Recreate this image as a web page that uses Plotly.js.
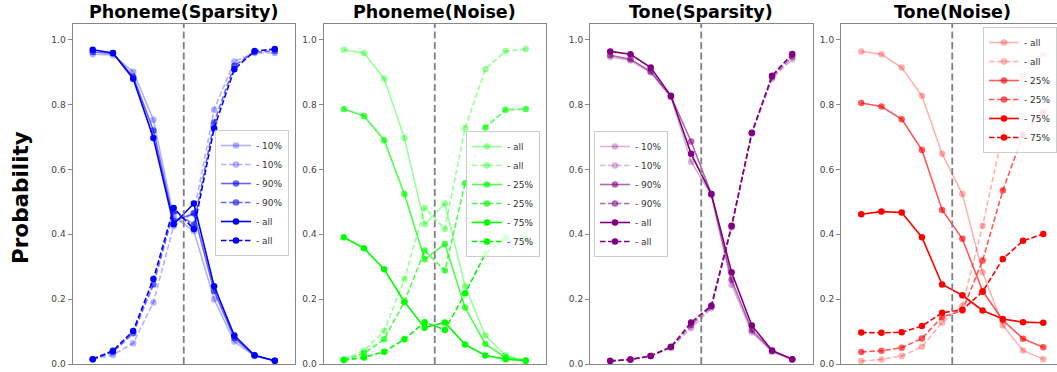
<!DOCTYPE html>
<html>
<head>
<meta charset="utf-8">
<script src="https://cdn.plot.ly/plotly-3.0.1.min.js"></script>
<style>
html, body { margin: 0; padding: 0; overflow: hidden; background: #fff; }
#chart { width: 1065px; height: 372px; }
</style>
</head>
<body>
<div id="chart"></div>
<script>
// ---------- data ----------
const steps = [1, 2, 3, 4, 5, 6, 7, 8, 9, 10];
const panelTitles = ['Phoneme(Sparsity)', 'Phoneme(Noise)', 'Tone(Sparsity)', 'Tone(Noise)'];
const yTickVals = [0, 0.2, 0.4, 0.6, 0.8, 1.0];
const yTickText = ['0.0', '0.2', '0.4', '0.6', '0.8', '1.0'];
const boundary = [5.5];

// Phoneme (Sparsity)
const phSp10Solid = [0.955, 0.953, 0.901, 0.753, 0.455, 0.410, 0.200, 0.069, 0.025, 0.010];
const phSp10Dash  = [0.015, 0.028, 0.064, 0.190, 0.425, 0.465, 0.784, 0.933, 0.959, 0.959];
const phSp90Solid = [0.962, 0.958, 0.886, 0.720, 0.440, 0.465, 0.225, 0.080, 0.026, 0.010];
const phSp90Dash  = [0.015, 0.037, 0.095, 0.245, 0.470, 0.430, 0.745, 0.920, 0.962, 0.965];
const phAllSolid  = [0.969, 0.959, 0.880, 0.697, 0.431, 0.495, 0.240, 0.088, 0.027, 0.010];
const phAllDash   = [0.015, 0.041, 0.102, 0.262, 0.481, 0.416, 0.727, 0.909, 0.965, 0.971];

// Phoneme (Noise)
const phNo25Solid = [0.786, 0.765, 0.690, 0.524, 0.323, 0.370, 0.174, 0.062, 0.020, 0.011];
const phNo25Dash  = [0.012, 0.033, 0.076, 0.192, 0.350, 0.288, 0.557, 0.729, 0.784, 0.786];
const phNo75Solid = [0.391, 0.357, 0.292, 0.192, 0.112, 0.128, 0.060, 0.026, 0.015, 0.010];
const phNo75Dash  = [0.012, 0.020, 0.038, 0.076, 0.129, 0.105, 0.218, 0.340, 0.389, 0.386];

// Tone (Sparsity)
const toSp10Solid = [0.947, 0.936, 0.899, 0.823, 0.624, 0.520, 0.244, 0.098, 0.038, 0.014];
const toSp10Dash  = [0.009, 0.013, 0.025, 0.050, 0.110, 0.172, 0.420, 0.710, 0.880, 0.940];
const toSp90Solid = [0.952, 0.940, 0.902, 0.825, 0.686, 0.524, 0.260, 0.105, 0.040, 0.014];
const toSp90Dash  = [0.010, 0.014, 0.025, 0.052, 0.120, 0.177, 0.424, 0.712, 0.885, 0.948];
const toAllSolid  = [0.964, 0.955, 0.914, 0.827, 0.648, 0.524, 0.283, 0.119, 0.042, 0.015];
const toAllDash   = [0.009, 0.014, 0.025, 0.053, 0.128, 0.180, 0.426, 0.713, 0.889, 0.956];

// Tone (Noise)
const toNo25Solid = [0.805, 0.794, 0.755, 0.660, 0.475, 0.386, 0.225, 0.135, 0.078, 0.052];
const toNo25Dash  = [0.037, 0.041, 0.050, 0.079, 0.145, 0.165, 0.319, 0.535, 0.707, 0.776];
const toNo75Solid = [0.462, 0.470, 0.467, 0.391, 0.245, 0.212, 0.165, 0.139, 0.129, 0.127];
const toNo75Dash  = [0.097, 0.096, 0.098, 0.117, 0.158, 0.167, 0.223, 0.324, 0.380, 0.401];

// ---------- styling ----------
const W = 1065, H = 372;
const xDomainsPx = [[72.5, 295], [323.5, 546], [590, 812.5], [841, 1063.5]];
const yDomain = [(H - 364) / H, (H - 23.5) / H];
const DASH = '5.5px,2.5px';

function series(panel, name, y, color, dashed) {
  const ax = panel === 0 ? '' : String(panel + 1);
  return {
    type: 'scatter', mode: 'lines+markers',
    x: steps, y: y, name: name,
    xaxis: 'x' + ax, yaxis: 'y' + ax,
    legend: 'legend' + ax,
    line: { color: color, width: 1.6, dash: dashed ? DASH : 'solid' },
    marker: { color: color, size: 6.5, line: { width: 0 } },
    hoverinfo: 'x+y+name'
  };
}

const blue = a => `rgba(0,0,255,${a})`;
const lime = a => `rgba(0,255,0,${a})`;
const purple = a => `rgba(128,0,128,${a})`;
const red = a => `rgba(255,0,0,${a})`;

const traces = [
  series(0, '- 10%', phSp10Solid, blue(0.3), false),
  series(0, '- 10%', phSp10Dash, blue(0.3), true),
  series(0, '- 90%', phSp90Solid, blue(0.6), false),
  series(0, '- 90%', phSp90Dash, blue(0.6), true),
  series(0, '- all', phAllSolid, blue(1), false),
  series(0, '- all', phAllDash, blue(1), true),

  series(1, '- all', phAllSolid, lime(0.4), false),
  series(1, '- all', phAllDash, lime(0.4), true),
  series(1, '- 25%', phNo25Solid, lime(0.7), false),
  series(1, '- 25%', phNo25Dash, lime(0.7), true),
  series(1, '- 75%', phNo75Solid, lime(1), false),
  series(1, '- 75%', phNo75Dash, lime(1), true),

  series(2, '- 10%', toSp10Solid, purple(0.3), false),
  series(2, '- 10%', toSp10Dash, purple(0.3), true),
  series(2, '- 90%', toSp90Solid, purple(0.6), false),
  series(2, '- 90%', toSp90Dash, purple(0.6), true),
  series(2, '- all', toAllSolid, purple(1), false),
  series(2, '- all', toAllDash, purple(1), true),

  series(3, '- all', toAllSolid, red(0.3), false),
  series(3, '- all', toAllDash, red(0.3), true),
  series(3, '- 25%', toNo25Solid, red(0.65), false),
  series(3, '- 25%', toNo25Dash, red(0.65), true),
  series(3, '- 75%', toNo75Solid, red(1), false),
  series(3, '- 75%', toNo75Dash, red(1), true)
];

const layout = {
  width: W, height: H,
  margin: { l: 0, r: 0, t: 0, b: 0, pad: 0 },
  paper_bgcolor: '#fff', plot_bgcolor: '#fff',
  font: { family: 'DejaVu Sans, sans-serif', size: 9, color: '#444' },
  hovermode: 'closest',
  shapes: [], annotations: []
};

const legendBase = {
  bgcolor: 'rgba(255,255,255,0.85)', bordercolor: '#cccccc', borderwidth: 1,
  font: { family: 'DejaVu Sans, sans-serif', size: 9, color: '#333' },
  itemwidth: 30, tracegroupgap: 0
};
const legendPos = [
  { x: 289 / W, xanchor: 'right', y: (H - 193) / H, yanchor: 'middle' },
  { x: 540 / W, xanchor: 'right', y: (H - 194) / H, yanchor: 'middle' },
  { x: 594 / W, xanchor: 'left', y: (H - 194) / H, yanchor: 'middle' },
  { x: 1057 / W, xanchor: 'right', y: (H - 27) / H, yanchor: 'top' }
];

for (let i = 0; i < 4; i++) {
  const ax = i === 0 ? '' : String(i + 1);
  const d = xDomainsPx[i];
  layout['xaxis' + ax] = {
    domain: [d[0] / W, d[1] / W], range: [0, 11],
    anchor: 'y' + ax,
    showticklabels: false, ticks: '', showgrid: false, zeroline: false,
    showline: true, mirror: true, linecolor: '#888', linewidth: 1, fixedrange: true
  };
  layout['yaxis' + ax] = {
    domain: yDomain, range: [0, 1.05], anchor: 'x' + ax,
    tickvals: yTickVals, ticktext: yTickText,
    ticks: 'outside', ticklen: 4, tickcolor: '#888', tickwidth: 1,
    tickfont: { family: 'DejaVu Sans, sans-serif', size: 9, color: '#444' },
    showgrid: false, zeroline: false,
    showline: true, mirror: true, linecolor: '#888', linewidth: 1, fixedrange: true
  };
  layout['legend' + ax] = Object.assign({}, legendBase, legendPos[i]);
  boundary.forEach(b => {
    layout.shapes.push({
      type: 'line', xref: 'x' + ax, yref: 'y' + ax + ' domain',
      x0: b, x1: b, y0: 0, y1: 1,
      line: { color: 'rgb(128,128,128)', width: 1.8, dash: '7px,3.5px' }
    });
  });
  layout.annotations.push({
    text: '<b>' + panelTitles[i] + '</b>',
    xref: 'x' + ax + ' domain', x: 0.5, xanchor: 'center',
    yref: 'paper', y: (H - 12) / H, yanchor: 'middle',
    showarrow: false,
    font: { family: 'DejaVu Sans, sans-serif', size: 17.5, color: '#000' }
  });
}

layout.annotations.push({
  text: '<b>Probability</b>', textangle: -90,
  xref: 'paper', x: 20 / W, xanchor: 'center',
  yref: 'paper', y: (H - 198) / H, yanchor: 'middle',
  showarrow: false,
  font: { family: 'DejaVu Sans, sans-serif', size: 21.5, color: '#000' }
});

Plotly.newPlot('chart', traces, layout, { displayModeBar: false, staticPlot: true });
</script>
</body>
</html>
